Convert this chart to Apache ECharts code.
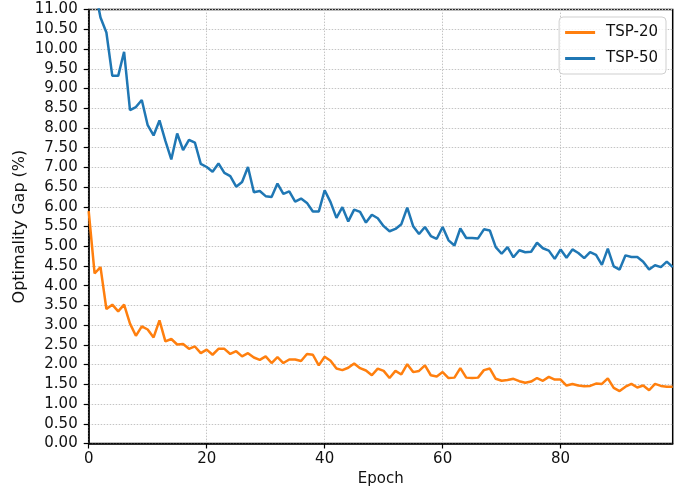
<!DOCTYPE html>
<html>
<head>
<meta charset="utf-8">
<script src="https://cdn.jsdelivr.net/npm/echarts@6/dist/echarts.min.js"></script>
<style>html,body{margin:0;padding:0;background:#fff}#c{width:689px;height:493px}</style>
</head>
<body>
<div id="c"></div>
<script>
const epochs = Array.from({length: 100}, (_, i) => i);
const tsp20 = [5.89,4.31,4.47,3.41,3.52,3.35,3.52,3.04,2.73,2.97,2.89,2.69,3.12,2.59,2.65,2.51,2.52,2.40,2.46,2.29,
  2.38,2.25,2.40,2.40,2.27,2.34,2.21,2.29,2.18,2.12,2.21,2.04,2.19,2.04,2.13,2.13,2.09,2.27,2.25,1.98,
  2.20,2.10,1.90,1.86,1.92,2.03,1.91,1.85,1.73,1.90,1.84,1.66,1.84,1.75,2.01,1.81,1.84,1.98,1.73,1.70,
  1.81,1.66,1.67,1.91,1.67,1.66,1.67,1.86,1.90,1.64,1.59,1.61,1.64,1.58,1.54,1.57,1.66,1.59,1.69,1.62,
  1.62,1.47,1.51,1.47,1.45,1.46,1.52,1.51,1.65,1.41,1.33,1.44,1.51,1.42,1.47,1.35,1.51,1.46,1.44,1.44];
const tsp50 = [12.6,11.55,10.8,10.42,9.32,9.32,9.93,8.45,8.53,8.71,8.07,7.81,8.19,7.67,7.20,7.86,7.44,7.70,7.63,7.09,
  7.01,6.89,7.10,6.86,6.78,6.51,6.63,7.01,6.37,6.40,6.27,6.25,6.59,6.33,6.39,6.13,6.21,6.10,5.88,5.88,
  6.42,6.12,5.72,5.99,5.63,5.93,5.87,5.60,5.80,5.71,5.51,5.38,5.44,5.56,5.98,5.51,5.31,5.49,5.26,5.19,
  5.49,5.15,5.02,5.45,5.21,5.21,5.20,5.43,5.40,4.98,4.81,4.98,4.72,4.90,4.85,4.86,5.09,4.95,4.89,4.68,
  4.92,4.71,4.92,4.83,4.70,4.85,4.78,4.53,4.94,4.49,4.41,4.77,4.73,4.73,4.61,4.41,4.52,4.47,4.61,4.47];
const xTicks = [0, 20, 40, 60, 80];
const seriesNames = ['TSP-20', 'TSP-50'];

const font = 'DejaVu Sans';
const chart = echarts.init(document.getElementById('c'), null, {renderer: 'canvas'});
const gridLine = {show: true, lineStyle: {color: '#c4c4c4', width: 1, type: [1.5, 1.5]}};
chart.setOption({
  animation: false,
  grid: {left: 88.7, right: 16.3, top: 9.6, bottom: 49.5, show: true, borderColor: '#000', borderWidth: 1.5, backgroundColor: 'transparent'},
  legend: {
    data: seriesNames.map(n => ({name: n, icon: 'rect'})), orient: 'vertical', right: 23, top: 17,
    itemWidth: 30, itemHeight: 3, itemGap: 11,
    padding: [8, 8, 8, 6], borderColor: '#cfcfcf', borderWidth: 1, borderRadius: 4,
    backgroundColor: 'rgba(255,255,255,0.8)',
    textStyle: {fontFamily: font, fontSize: 15, color: '#111', padding: [0, 0, 0, 6]}
  },
  xAxis: {
    type: 'value', min: 0, max: 99,
    name: 'Epoch', nameLocation: 'middle', nameGap: 28, nameMoveOverlap: false,
    nameTextStyle: {fontFamily: font, fontSize: 15, color: '#111'},
    axisLine: {show: true, onZero: false, lineStyle: {color: '#000', width: 1.5}},
    axisTick: {show: true, length: 5, customValues: xTicks, lineStyle: {color: '#000', width: 1.2}},
    axisLabel: {customValues: xTicks, margin: 8, fontFamily: font, fontSize: 15, color: '#111'},
    splitLine: gridLine
  },
  yAxis: {
    type: 'value', min: 0, max: 11, interval: 0.5,
    name: 'Optimality Gap (%)', nameLocation: 'middle', nameGap: 61, nameMoveOverlap: false,
    nameTextStyle: {fontFamily: font, fontSize: 16, color: '#111'},
    axisLine: {show: true, lineStyle: {color: '#000', width: 1.5}},
    axisTick: {show: true, length: 5, lineStyle: {color: '#000', width: 1.2}},
    axisLabel: {margin: 11, fontFamily: font, fontSize: 15, color: '#111', formatter: v => v.toFixed(2)},
    splitLine: gridLine
  },
  series: [
    {name: seriesNames[0], type: 'line', data: epochs.map((e, i) => [e, tsp20[i]]), symbol: 'none', clip: true,
     lineStyle: {color: '#ff7f0e', width: 2.5}, itemStyle: {color: '#ff7f0e'}},
    {name: seriesNames[1], type: 'line', data: epochs.map((e, i) => [e, tsp50[i]]), symbol: 'none', clip: true,
     lineStyle: {color: '#1f77b4', width: 2.5}, itemStyle: {color: '#1f77b4'}}
  ]
});
</script>
</body>
</html>
